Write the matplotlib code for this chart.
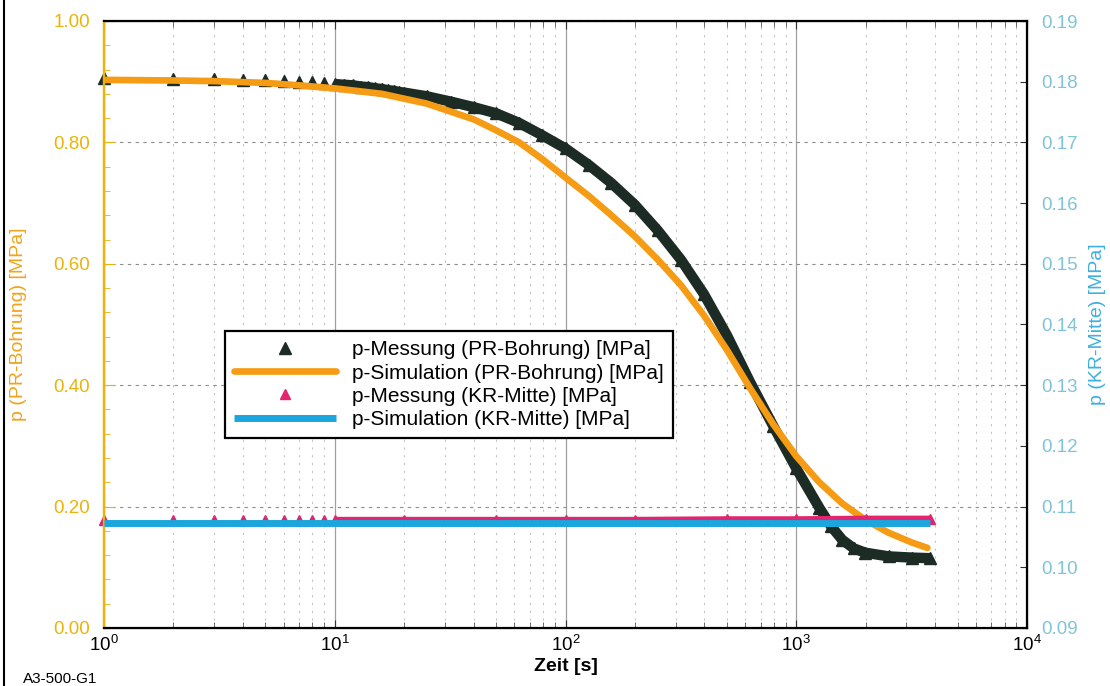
import matplotlib
matplotlib.use("Agg")
import matplotlib.pyplot as plt
from matplotlib.lines import Line2D
from matplotlib.ticker import MultipleLocator, LogLocator, NullFormatter

plt.rcParams['font.family'] = ['Liberation Sans', 'DejaVu Sans']
plt.rcParams['mathtext.fontset'] = 'custom'
plt.rcParams['mathtext.rm'] = 'Liberation Sans'

# ---------------- data ----------------
# p-Messung (PR-Bohrung) [MPa]
t_meas_pr = [1, 2, 3, 4, 5, 6, 7, 8, 9, 10, 11, 12, 13, 14, 15, 16, 17, 18, 19, 20,
             25, 32, 40, 50, 63, 79, 100, 126, 158, 200, 251, 316, 398, 501, 631, 794,
             1000, 1259, 1413, 1585, 1778, 1995, 2512, 3162, 3800]
p_meas_pr = [0.906, 0.905, 0.904, 0.903, 0.902, 0.901, 0.900, 0.899, 0.898, 0.896,
             0.895, 0.894, 0.892, 0.891, 0.889, 0.888, 0.886, 0.885, 0.883, 0.882,
             0.876, 0.867, 0.858, 0.848, 0.832, 0.812, 0.790, 0.763, 0.733, 0.697,
             0.655, 0.607, 0.550, 0.482, 0.405, 0.333, 0.263, 0.198, 0.168, 0.145,
             0.131, 0.124, 0.118, 0.116, 0.115]

# p-Simulation (PR-Bohrung) [MPa]
t_sim_pr = [1, 2, 3, 5, 7, 10, 16, 25, 40, 50, 63, 79, 100, 126, 158, 200, 251, 316,
            398, 501, 631, 794, 1000, 1259, 1585, 1995, 2512, 3162, 3700]
p_sim_pr = [0.903, 0.902, 0.901, 0.898, 0.894, 0.889, 0.880, 0.864, 0.838, 0.820,
            0.800, 0.773, 0.742, 0.712, 0.680, 0.645, 0.607, 0.565, 0.515, 0.458,
            0.395, 0.336, 0.283, 0.240, 0.205, 0.178, 0.157, 0.141, 0.132]

# p-Messung (KR-Mitte) [MPa]
t_meas_kr = [1, 2, 3, 4, 5, 6, 7, 8, 9, 10, 20, 50, 100, 200, 500, 1000, 2000, 3800]
p_meas_kr = [0.1078, 0.1078, 0.1078, 0.1078, 0.1078, 0.1078, 0.1078, 0.1078, 0.1078,
             0.1078, 0.1078, 0.1078, 0.1078, 0.1078, 0.1079, 0.1079, 0.1080, 0.1080]

# p-Simulation (KR-Mitte) [MPa]
t_sim_kr = [1, 10, 100, 1000, 3800]
p_sim_kr = [0.1073, 0.1073, 0.1073, 0.1073, 0.1073]

labels = ["p-Messung (PR-Bohrung) [MPa]", "p-Simulation (PR-Bohrung) [MPa]",
          "p-Messung (KR-Mitte) [MPa]", "p-Simulation (KR-Mitte) [MPa]"]

# ---------------- colours ----------------
c_black = '#1c2b24'
c_orange = '#f59b14'
c_pink = '#e3246e'
c_blue = '#1ba6dd'
c_left = '#ebb30b'
c_left_lab = '#f2a31b'
c_right = '#7fc4d8'
c_right_lab = '#3db0e0'

fig = plt.figure(figsize=(11.1, 6.86), dpi=100)
ax = fig.add_axes([104/1110, 58/686, 923/1110, 607/686])
ax2 = ax.twinx()

ax.set_xscale('log')
ax.set_xlim(1, 1e4)
ax.set_ylim(0, 1.0)
ax2.set_ylim(0.09, 0.19)

# grid
ax.grid(axis='y', which='major', ls=(0, (3, 4)), color='#8c8c8c', lw=0.8)
ax.grid(axis='x', which='major', ls='-', color='#a0a0a0', lw=0.9)
ax.grid(axis='x', which='minor', ls=(0, (2, 5)), color='#c4c4c4', lw=0.8)
ax.set_axisbelow(True)

# PR measurement: band + triangles
k = t_meas_pr.index(10)
ax.plot(t_meas_pr[k:], p_meas_pr[k:], color=c_black, lw=7.5, solid_capstyle='butt',
        solid_joinstyle='round', zorder=2)
h1, = ax.plot(t_meas_pr, p_meas_pr, ls='none', marker='^', ms=8, color=c_black,
              clip_on=False, zorder=2)
h2, = ax.plot(t_sim_pr, p_sim_pr, color=c_orange, lw=4.8, solid_capstyle='round',
              solid_joinstyle='round', zorder=3)

k2 = t_meas_kr.index(10)
ax2.plot(t_meas_kr[k2:], p_meas_kr[k2:], color=c_pink, lw=4.5, solid_capstyle='butt', zorder=2)
h3, = ax2.plot(t_meas_kr, p_meas_kr, ls='none', marker='^', ms=7, color=c_pink,
               clip_on=False, zorder=2)
h4, = ax2.plot(t_sim_kr, p_sim_kr, color=c_blue, lw=5.0, solid_capstyle='butt', zorder=3)

# ticks
ax.yaxis.set_major_locator(MultipleLocator(0.2))
ax.yaxis.set_minor_locator(MultipleLocator(0.04))
ax.yaxis.set_major_formatter(plt.FuncFormatter(lambda v, p: f"{v:.2f}"))
ax.xaxis.set_major_locator(LogLocator(base=10, numticks=10))
ax.xaxis.set_minor_locator(LogLocator(base=10, subs=range(2, 10), numticks=20))
ax.xaxis.set_minor_formatter(NullFormatter())
ax.tick_params(axis='y', which='major', direction='in', length=7, colors=c_left,
               labelsize=13.5, pad=10, right=False)
ax.tick_params(axis='y', which='minor', direction='in', length=4, color=c_left, right=False)
ax.tick_params(axis='x', which='major', direction='in', length=6, color='#333333',
               labelsize=13.5, pad=5, top=True, labelcolor='black')
ax.tick_params(axis='x', which='minor', direction='in', length=4, color='#555555', top=True)

ax2.yaxis.set_major_locator(MultipleLocator(0.01))
ax2.yaxis.set_major_formatter(plt.FuncFormatter(lambda v, p: f"{v:.2f}"))
ax2.tick_params(axis='y', which='major', direction='in', length=5, color='#333333',
                labelcolor=c_right, labelsize=13.5, pad=10)

for s in ['top', 'right', 'bottom']:
    ax2.spines[s].set_color('black')
    ax2.spines[s].set_linewidth(1.6)
ax2.spines['left'].set_color(c_left)
ax2.spines['left'].set_linewidth(1.6)
ax.spines['left'].set_color(c_left)
ax.spines['left'].set_linewidth(1.6)

ax.set_ylabel("p (PR-Bohrung) [MPa]", color=c_left_lab, fontsize=14)
ax.yaxis.set_label_coords((27 - 104) / 923, 0.5)
ax2.set_ylabel("p (KR-Mitte) [MPa]", color=c_right_lab, fontsize=14)
ax2.yaxis.set_label_coords((1089 - 104) / 923, 0.5)
ax.set_xlabel("Zeit [s]", fontsize=14, fontweight='bold')
ax.xaxis.set_label_coords(0.5, -(658 - 628) / 607)

leg = fig.legend([h1, h2, h3, h4], labels, loc='upper left',
                 bbox_to_anchor=(225/1110, 1 - 331/686), borderaxespad=0,
                 fontsize=15, handlelength=4.9, handletextpad=0.75, labelspacing=0.2,
                 numpoints=1, fancybox=False, framealpha=1, edgecolor='black',
                 borderpad=0.45)
leg.get_frame().set_linewidth(1.6)

fig.text(23/1110, 1 - 683/686, "A3-500-G1", fontsize=11, ha='left', va='baseline')
fig.add_artist(Line2D([4/1110, 4/1110], [0, 1], transform=fig.transFigure,
                      color='black', lw=1.5))

fig.savefig("out.png", dpi=100)
